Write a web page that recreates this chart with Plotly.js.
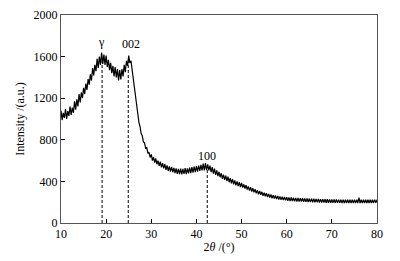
<!DOCTYPE html>
<html>
<head>
<meta charset="utf-8">
<script src="https://cdn.plot.ly/plotly-3.0.1.min.js"></script>
<style>
  html, body { margin: 0; padding: 0; background: #fff; }
  #chart { width: 400px; height: 261px; }
</style>
</head>
<body>
<div id="chart"></div>
<script>
const twoTheta = [
  10, 10.25, 10.5, 10.75, 11, 11.25, 11.5, 11.75, 12, 12.25, 12.5, 12.75, 13, 13.25, 13.5, 13.75, 14, 14.25, 14.5, 14.75,
  15, 15.25, 15.5, 15.75, 16, 16.25, 16.5, 16.75, 17, 17.25, 17.5, 17.75, 18, 18.25, 18.5, 18.75, 19, 19.25, 19.5, 19.75,
  20, 20.25, 20.5, 20.75, 21, 21.25, 21.5, 21.75, 22, 22.25, 22.5, 22.75, 23, 23.25, 23.5, 23.75, 24, 24.25, 24.5, 24.75,
  25, 25.25, 25.5, 25.75, 26, 26.25, 26.5, 26.75, 27, 27.25, 27.5, 27.75, 28, 28.25, 28.5, 28.75, 29, 29.25, 29.5, 29.75,
  30, 30.25, 30.5, 30.75, 31, 31.25, 31.5, 31.75, 32, 32.25, 32.5, 32.75, 33, 33.25, 33.5, 33.75, 34, 34.25, 34.5, 34.75,
  35, 35.25, 35.5, 35.75, 36, 36.25, 36.5, 36.75, 37, 37.25, 37.5, 37.75, 38, 38.25, 38.5, 38.75, 39, 39.25, 39.5, 39.75,
  40, 40.25, 40.5, 40.75, 41, 41.25, 41.5, 41.75, 42, 42.25, 42.5, 42.75, 43, 43.25, 43.5, 43.75, 44, 44.25, 44.5, 44.75,
  45, 45.25, 45.5, 45.75, 46, 46.25, 46.5, 46.75, 47, 47.25, 47.5, 47.75, 48, 48.25, 48.5, 48.75, 49, 49.25, 49.5, 49.75,
  50, 50.25, 50.5, 50.75, 51, 51.25, 51.5, 51.75, 52, 52.25, 52.5, 52.75, 53, 53.25, 53.5, 53.75, 54, 54.25, 54.5, 54.75,
  55, 55.25, 55.5, 55.75, 56, 56.25, 56.5, 56.75, 57, 57.25, 57.5, 57.75, 58, 58.25, 58.5, 58.75, 59, 59.25, 59.5, 59.75,
  60, 60.25, 60.5, 60.75, 61, 61.25, 61.5, 61.75, 62, 62.25, 62.5, 62.75, 63, 63.25, 63.5, 63.75, 64, 64.25, 64.5, 64.75,
  65, 65.25, 65.5, 65.75, 66, 66.25, 66.5, 66.75, 67, 67.25, 67.5, 67.75, 68, 68.25, 68.5, 68.75, 69, 69.25, 69.5, 69.75,
  70, 70.25, 70.5, 70.75, 71, 71.25, 71.5, 71.75, 72, 72.25, 72.5, 72.75, 73, 73.25, 73.5, 73.75, 74, 74.25, 74.5, 74.75,
  75, 75.25, 75.5, 75.75, 76, 76.25, 76.5, 76.75, 77, 77.25, 77.5, 77.75, 78, 78.25, 78.5, 78.75, 79, 79.25, 79.5, 79.75,
  80
]
const intensity = [
  1080, 990, 1060, 1010, 1095, 1000, 1075, 1030, 1120, 1040, 1110, 1060, 1170, 1090, 1190, 1120, 1240, 1160, 1255, 1200,
  1300, 1240, 1340, 1280, 1385, 1330, 1430, 1370, 1490, 1420, 1520, 1460, 1580, 1490, 1600, 1520, 1640, 1530, 1620, 1520,
  1610, 1500, 1570, 1470, 1540, 1440, 1510, 1410, 1500, 1400, 1480, 1370, 1470, 1380, 1480, 1410, 1520, 1450, 1560, 1510,
  1610, 1540, 1560, 1470, 1420, 1300, 1230, 1120, 1070, 970, 930, 860, 840, 780, 770, 720, 725, 670, 680, 630,
  660, 600, 635, 580, 620, 565, 600, 550, 590, 535, 575, 525, 565, 510, 555, 500, 545, 495, 540, 488,
  530, 480, 525, 472, 520, 470, 522, 468, 520, 472, 528, 470, 525, 478, 532, 480, 538, 485, 542, 490,
  548, 495, 552, 500, 560, 505, 570, 505, 575, 508, 565, 505, 552, 490, 538, 475, 522, 462, 505, 450,
  492, 440, 478, 425, 466, 415, 455, 402, 445, 392, 432, 382, 422, 372, 410, 362, 400, 355, 392, 345,
  386, 340, 372, 330, 364, 322, 352, 312, 345, 302, 335, 294, 325, 285, 316, 276, 308, 270, 300, 262,
  292, 256, 286, 250, 280, 244, 274, 238, 268, 234, 264, 230, 260, 226, 256, 222, 252, 220, 250, 218,
  248, 214, 246, 212, 245, 210, 243, 208, 242, 207, 240, 206, 239, 205, 238, 204, 237, 203, 236, 202,
  235, 201, 234, 200, 233, 199, 232, 198, 231, 197, 230, 196, 229, 196, 228, 195, 228, 195, 227, 194,
  227, 194, 226, 193, 226, 193, 225, 193, 225, 192, 225, 192, 224, 192, 224, 192, 224, 191, 224, 191,
  224, 191, 223, 191, 245, 191, 223, 191, 223, 192, 223, 192, 224, 192, 224, 193, 224, 193, 225, 194,
  224
]

// peak markers
const peakX = [19.1, 24.9, 42.4]
const peakTop = [1560, 1570, 525]
const peakLabels = ["γ", "002", "100"]
const labelX = [18.9, 25.5, 42.3]
const labelY = [1740, 1720, 645]

const xTicks = [10, 20, 30, 40, 50, 60, 70, 80]
const yTicks = [0, 400, 800, 1200, 1600, 2000]

const font = { family: "Liberation Serif, Times New Roman, serif", size: 12, color: "#000" }

const trace = {
  x: twoTheta,
  y: intensity,
  type: "scatter",
  mode: "lines",
  line: { color: "#000", width: 1.2 },
  hoverinfo: "skip",
}

const shapes = peakX.map((x, i) => ({
  type: "line",
  xref: "x",
  yref: "y",
  x0: x,
  x1: x,
  y0: 0,
  y1: peakTop[i],
  line: { color: "#000", width: 1, dash: "3px,2px" },
}))

const annotations = peakLabels.map((t, i) => ({
  x: labelX[i],
  y: labelY[i],
  xref: "x",
  yref: "y",
  text: t,
  showarrow: false,
  font: { family: font.family, size: 12, color: "#000" },
}))

const layout = {
  width: 400,
  height: 261,
  margin: { l: 61, r: 23, t: 15, b: 38 },
  paper_bgcolor: "#fff",
  plot_bgcolor: "#fff",
  font: font,
  showlegend: false,
  xaxis: {
    range: [10, 80],
    tickvals: xTicks,
    ticks: "inside",
    ticklen: 4,
    tickcolor: "#000",
    showgrid: false,
    zeroline: false,
    showline: true,
    linecolor: "#555",
    linewidth: 1,
    mirror: true,
    tickfont: { family: font.family, size: 12 },
    title: { text: "2<i>θ</i> /(°)", font: { family: font.family, size: 12 }, standoff: 2 },
  },
  yaxis: {
    range: [0, 2000],
    tickvals: yTicks,
    ticks: "inside",
    ticklen: 4,
    tickcolor: "#000",
    showgrid: false,
    zeroline: false,
    showline: true,
    linecolor: "#555",
    linewidth: 1,
    mirror: true,
    tickfont: { family: font.family, size: 12 },
    title: { text: "Intensity /(a.u.)", font: { family: font.family, size: 12 }, standoff: 6 },
  },
  shapes: shapes,
  annotations: annotations,
}

Plotly.newPlot("chart", [trace], layout, { displayModeBar: false, staticPlot: true })
</script>
</body>
</html>
